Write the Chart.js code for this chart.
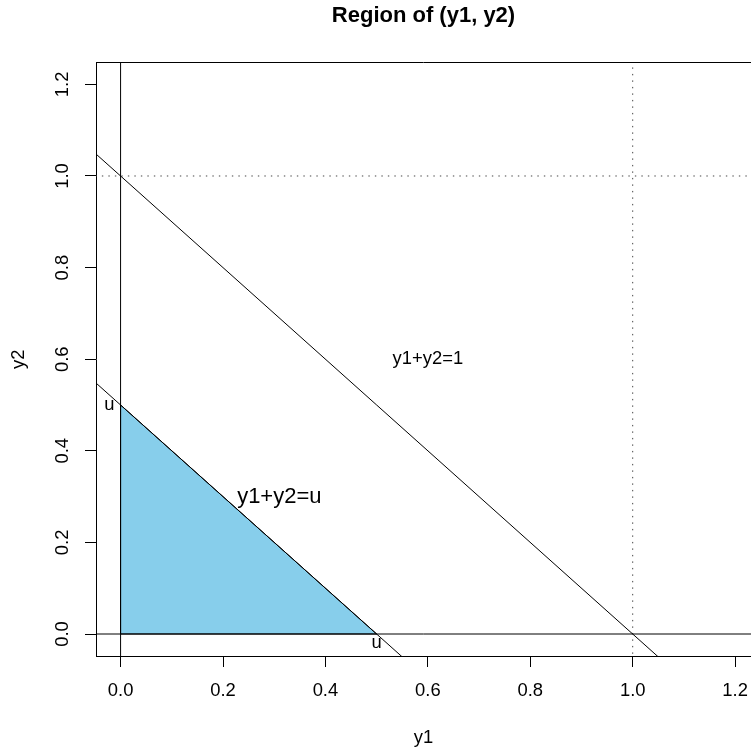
<!DOCTYPE html>
<html>
<head>
<meta charset="utf-8">
<title>Region of (y1, y2)</title>
<script src="https://cdn.jsdelivr.net/npm/chart.js@4.4.1/dist/chart.umd.min.js"></script>
<style>
    html, body { margin: 0; padding: 0; background: #ffffff; overflow: hidden; }
    #plot-wrap { position: relative; width: 751px; height: 752px; }
</style>
</head>
<body>
<div id="plot-wrap"><canvas id="region-plot"></canvas></div>
<script>
const FONT = '"Liberation Sans", Arial, Helvetica, sans-serif';

// axes
const xTicks = [0.0, 0.2, 0.4, 0.6, 0.8, 1.0, 1.2];
const yTicks = [0.0, 0.2, 0.4, 0.6, 0.8, 1.0, 1.2];
const xRange = [-0.048, 1.231];
const yRange = [-0.048, 1.248];

// shaded region y1 >= 0, y2 >= 0, y1 + y2 <= u  (u = 0.5)
const regionX = [0, 0, 0.5, 0];
const regionY = [0, 0.5, 0, 0];

// y1 + y2 = 1 and y1 + y2 = u, long enough to be clipped by the plot box
const lineOneX = [-0.1, 1.1];
const lineOneY = [1.1, -0.1];
const lineUX = [-0.1, 0.6];
const lineUY = [0.6, -0.1];

// the axes y1 = 0 and y2 = 0
const axisVX = [0, 0];
const axisVY = [-0.1, 1.3];
const axisHX = [-0.1, 1.3];
const axisHY = [0, 0];

// dotted guides y1 = 1 and y2 = 1
const guideVX = [1, 1];
const guideVY = [-0.1, 1.3];
const guideHX = [-0.1, 1.3];
const guideHY = [1, 1];

// text notes
const noteText = ['u', 'u', 'y1+y2=u', 'y1+y2=1'];
const noteX = [0, 0.5, 0.31, 0.6];
const noteY = [0.5, 0, 0.3, 0.6];
const notePos = ['left', 'below', 'center', 'center'];
const noteSize = [18.4, 18.4, 22, 18.4];

function pts(xs, ys) {
    return xs.map((x, i) => ({ x: x, y: ys[i] }));
}

function lineSet(xs, ys, extra) {
    return Object.assign({
        data: pts(xs, ys),
        showLine: true,
        borderColor: '#000000',
        borderWidth: 1,
        pointRadius: 0,
        fill: false,
        order: 1
    }, extra || {});
}

const plotBox = {
    id: 'plotBox',
    afterDraw(chart) {
        const { ctx, chartArea: { left, right, top } } = chart;
        ctx.save();
        ctx.strokeStyle = '#000000';
        ctx.lineWidth = 1;
        ctx.beginPath();
        ctx.moveTo(left, Math.round(top) + 0.5);
        ctx.lineTo(right, Math.round(top) + 0.5);
        ctx.stroke();
        ctx.restore();
    }
};

const yLabels = {
    id: 'yLabels',
    afterDraw(chart) {
        const { ctx, scales: { y } } = chart;
        ctx.save();
        ctx.fillStyle = '#000000';
        ctx.font = '18.4px ' + FONT;
        ctx.textAlign = 'center';
        ctx.textBaseline = 'middle';
        yTicks.forEach(v => {
            ctx.save();
            ctx.translate(63, y.getPixelForValue(v));
            ctx.rotate(-Math.PI / 2);
            ctx.fillText(v.toFixed(1), 0, 0);
            ctx.restore();
        });
        ctx.restore();
    }
};

const notes = {
    id: 'notes',
    afterDatasetsDraw(chart) {
        const { ctx, scales: { x, y } } = chart;
        ctx.save();
        ctx.fillStyle = '#000000';
        ctx.textBaseline = 'middle';
        noteText.forEach((t, i) => {
            let px = x.getPixelForValue(noteX[i]);
            let py = y.getPixelForValue(noteY[i]);
            ctx.font = noteSize[i] + 'px ' + FONT;
            if (notePos[i] === 'left') {
                ctx.textAlign = 'right';
                px -= 6;
            } else if (notePos[i] === 'below') {
                ctx.textAlign = 'center';
                py += 8.5;
            } else {
                ctx.textAlign = 'center';
            }
            ctx.fillText(t, px, py);
        });
        ctx.restore();
    }
};

const ctx = document.getElementById('region-plot').getContext('2d');

new Chart(ctx, {
    type: 'scatter',
    plugins: [plotBox, yLabels, notes],
    data: {
        datasets: [
            lineSet(lineOneX, lineOneY),
            lineSet(lineUX, lineUY),
            lineSet(axisVX, axisVY),
            lineSet(axisHX, axisHY),
            lineSet(guideVX, guideVY, { borderColor: '#444444', borderDash: [1.4, 5.1] }),
            lineSet(guideHX, guideHY, { borderColor: '#444444', borderDash: [1.4, 5.1] }),
            lineSet(regionX, regionY, {
                backgroundColor: '#87CEEB',
                fill: 'shape',
                order: 2
            })
        ]
    },
    options: {
        responsive: true,
        maintainAspectRatio: false,
        animation: false,
        events: [],
        layout: { padding: 0 },
        plugins: {
            legend: { display: false },
            tooltip: { enabled: false },
            title: {
                display: true,
                text: 'Region of (y1, y2)',
                fullSize: false,
                color: '#000000',
                font: { family: FONT, size: 22, weight: 'bold', lineHeight: 1.2 },
                padding: { top: 3, bottom: 33 }
            }
        },
        scales: {
            x: {
                type: 'linear',
                position: 'bottom',
                min: xRange[0],
                max: xRange[1],
                afterBuildTicks: scale => { scale.ticks = xTicks.map(v => ({ value: v })); },
                afterFit: scale => {
                    scale.height = 96;
                    scale.paddingLeft = 0;
                    scale.paddingRight = 0;
                },
                ticks: {
                    color: '#000000',
                    padding: 13,
                    maxRotation: 0,
                    autoSkip: false,
                    font: { family: FONT, size: 18.4 },
                    callback: v => Number(v).toFixed(1)
                },
                grid: {
                    display: true,
                    drawOnChartArea: false,
                    drawTicks: true,
                    tickLength: 11,
                    color: '#000000',
                    lineWidth: 1
                },
                border: { display: true, color: '#000000', width: 1 },
                title: {
                    display: true,
                    text: 'y1',
                    color: '#000000',
                    font: { family: FONT, size: 18.4, lineHeight: 1.2 },
                    padding: { top: 0, bottom: 3 }
                }
            },
            y: {
                type: 'linear',
                position: 'left',
                min: yRange[0],
                max: yRange[1],
                afterBuildTicks: scale => { scale.ticks = yTicks.map(v => ({ value: v })); },
                afterFit: scale => {
                    scale.width = 96;
                    scale.paddingTop = 0;
                    scale.paddingBottom = 0;
                },
                ticks: { display: false },
                grid: {
                    display: true,
                    drawOnChartArea: false,
                    drawTicks: true,
                    tickLength: 11,
                    color: '#000000',
                    lineWidth: 1
                },
                border: { display: true, color: '#000000', width: 1 },
                title: {
                    display: true,
                    text: 'y2',
                    color: '#000000',
                    font: { family: FONT, size: 18.4, lineHeight: 1.2 },
                    padding: { top: 7.5, bottom: 7.5 }
                }
            }
        }
    }
});
</script>
</body>
</html>
